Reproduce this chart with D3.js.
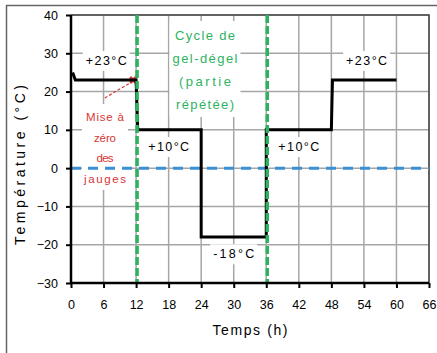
<!DOCTYPE html>
<html>
<head>
<meta charset="utf-8">
<script src="https://cdn.jsdelivr.net/npm/d3@7"></script>
<style>
  body { margin: 0; background: #fff; }
  text { font-family: "Liberation Sans", Arial, sans-serif; }
</style>
</head>
<body>
<script>
// data
var xTicks = [0, 6, 12, 18, 24, 30, 36, 42, 48, 54, 60, 66];
var yTicks = [-30, -20, -10, 0, 10, 20, 30, 40];
var timeH = [0.3, 0.8, 12, 12.3, 24, 24, 36, 36, 48, 48.2, 60];
var tempC = [25, 23, 23, 10, 10, -18, -18, 10, 10, 23, 23];
var cycleLines = [12, 36];
var gaugeReset = [12, 23];
var stepLabels = ["+23°C", "+10°C", "-18°C", "+10°C", "+23°C"];
var stepLabelAt = [[6.5, 28], [18, 5.5], [30, -22.5], [42, 5.5], [54.5, 28]];

var width = 437, height = 353;

var svg = d3.select("body").append("svg")
    .attr("width", width)
    .attr("height", height);

// outer frame
svg.append("rect")
    .attr("x", 6.5).attr("y", 5.5)
    .attr("width", 440).attr("height", 360)
    .attr("fill", "none")
    .attr("stroke", "#666")
    .attr("stroke-width", 1.5);

var x = d3.scaleLinear().domain([0, 66]).range([71, 429]);
var y = d3.scaleLinear().domain([-30, 40]).range([283, 15]);

// grid
svg.append("g").selectAll("line")
    .data(xTicks)
  .enter().append("line")
    .attr("x1", function(d){ return x(d); })
    .attr("x2", function(d){ return x(d); })
    .attr("y1", y(40)).attr("y2", y(-30))
    .attr("stroke", "#a6a6a6").attr("stroke-width", 1.5);
svg.append("g").selectAll("line")
    .data(yTicks)
  .enter().append("line")
    .attr("y1", function(d){ return y(d); })
    .attr("y2", function(d){ return y(d); })
    .attr("x1", x(0)).attr("x2", x(66))
    .attr("stroke", "#a6a6a6").attr("stroke-width", 1.5);

// plot border top/right
svg.append("path")
    .attr("d", "M" + x(0) + "," + y(40) + "H" + x(66) + "V" + y(-30))
    .attr("fill", "none").attr("stroke", "#444").attr("stroke-width", 1.5);

// label boxes (white) then labels
function boxText(g, lines, cx, cy, lh, color, size, lengths, pad) {
  var h = lines.length * lh;
  var w = d3.max(lengths) + pad * 2;
  g.append("rect")
    .attr("x", cx - w / 2).attr("y", cy - h / 2 - 2)
    .attr("width", w).attr("height", h + 4)
    .attr("fill", "#fff");
  lines.forEach(function(t, i) {
    g.append("text")
      .attr("x", cx)
      .attr("y", cy - h / 2 + lh * i + lh * 0.75)
      .attr("text-anchor", "middle")
      .attr("font-size", size)
      .attr("fill", color)
      .attr("textLength", lengths[i])
      .attr("lengthAdjust", "spacing")
      .text(t);
  });
}

var ann = svg.append("g");
stepLabels.forEach(function(t, i) {
  boxText(ann, [t], x(stepLabelAt[i][0]), y(stepLabelAt[i][1]), 16, "#000", 12.5, [41], 3);
});
boxText(ann, ["Cycle de", "gel-dégel", "(partie", "répétée)"], 205, 69, 23, "#2db35f", 13,
        [60, 65, 52, 58], 3);
boxText(ann, ["Mise à", "zéro", "des", "jauges"], 105, 147, 20.5, "#d63535", 11.5,
        [38, 22, 17, 42], 2);

// red reset marker and leader
svg.append("line")
    .attr("x1", x(gaugeReset[0]) - 3).attr("y1", y(gaugeReset[1]) + 1)
    .attr("x2", 103).attr("y2", 99)
    .attr("stroke", "#d63535").attr("stroke-width", 1.2)
    .attr("stroke-dasharray", "3,2");
svg.append("path")
    .attr("d", d3.symbol().type(d3.symbolCross).size(40))
    .attr("transform", "translate(" + (x(gaugeReset[0]) - 3) + "," + y(gaugeReset[1]) + ") rotate(45)")
    .attr("fill", "#d63535");

// zero line
svg.append("line")
    .attr("x1", x(0)).attr("x2", x(66))
    .attr("y1", y(0)).attr("y2", y(0))
    .attr("stroke", "#3b8fd4").attr("stroke-width", 3)
    .attr("stroke-dasharray", "10,7");

// temperature profile
var pts = timeH.map(function(t, i){ return [t, tempC[i]]; });
var line = d3.line()
    .x(function(d){ return x(d[0]); })
    .y(function(d){ return y(d[1]); });
svg.append("path")
    .datum(pts)
    .attr("d", line)
    .attr("fill", "none")
    .attr("stroke", "#000")
    .attr("stroke-width", 3);

// cycle boundaries
svg.append("g").selectAll("line")
    .data(cycleLines)
  .enter().append("line")
    .attr("x1", function(d){ return x(d) + 1; })
    .attr("x2", function(d){ return x(d) + 1; })
    .attr("y1", y(40)).attr("y2", y(-30))
    .attr("stroke", "#2db35f").attr("stroke-width", 3.5)
    .attr("stroke-dasharray", "8,3");

// axes
var xAxis = d3.axisBottom(x).tickValues(xTicks).tickSize(5).tickPadding(12);
var yAxis = d3.axisLeft(y).tickValues(yTicks).tickSize(5).tickPadding(8);

var gx = svg.append("g")
    .attr("transform", "translate(0," + y(-30) + ")")
    .call(xAxis);
var gy = svg.append("g")
    .attr("transform", "translate(" + x(0) + ",0)")
    .call(yAxis);
[gx, gy].forEach(function(g) {
  g.select(".domain").attr("stroke", "#000").attr("stroke-width", 2.5);
  g.selectAll(".tick line").attr("stroke", "#000").attr("stroke-width", 2);
  g.selectAll(".tick text")
    .attr("font-family", "Liberation Sans, Arial, sans-serif")
    .attr("font-size", 12.5)
    .attr("fill", "#000");
});
gy.select(".domain").attr("d", "M0," + y(40) + "V" + y(-30));
gx.select(".domain").attr("d", "M" + x(0) + ",0H" + x(66));

// axis titles
svg.append("text")
    .attr("x", 250).attr("y", 335)
    .attr("text-anchor", "middle")
    .attr("font-size", 14)
    .attr("textLength", 75)
    .attr("lengthAdjust", "spacing")
    .text("Temps (h)");
svg.append("text")
    .attr("transform", "translate(25,165) rotate(-90)")
    .attr("text-anchor", "middle")
    .attr("font-size", 14)
    .attr("textLength", 160)
    .attr("lengthAdjust", "spacing")
    .text("Température (°C)");
</script>
</body>
</html>
